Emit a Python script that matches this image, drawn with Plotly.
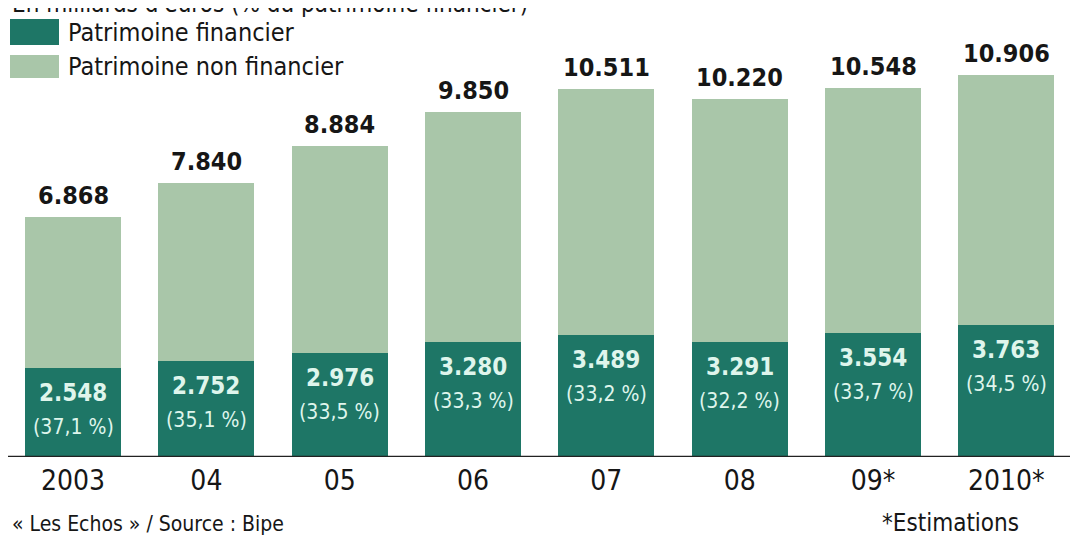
import plotly.graph_objects as go

# Data (milliards d'euros)
categories = ["2003", "04", "05", "06", "07", "08", "09*", "2010*"]
total_values = [6868, 7840, 8884, 9850, 10511, 10220, 10548, 10906]
financier_values = [2548, 2752, 2976, 3280, 3489, 3291, 3554, 3763]
financier_pct = ["(37,1 %)", "(35,1 %)", "(33,5 %)", "(33,3 %)", "(33,2 %)", "(32,2 %)", "(33,7 %)", "(34,5 %)"]
total_labels = ["6.868", "7.840", "8.884", "9.850", "10.511", "10.220", "10.548", "10.906"]
financier_labels = ["2.548", "2.752", "2.976", "3.280", "3.489", "3.291", "3.554", "3.763"]
non_financier_values = [t - f for t, f in zip(total_values, financier_values)]

DARK = "#1e7666"
LIGHT = "#a9c6a9"
INNER_TXT = "#dff5ec"
TXT = "#161616"
FONT = "DejaVu Sans Condensed, Liberation Sans Narrow, Arial Narrow, sans-serif"

OFF = 8  # page body margin offset
W, H = 1078 - OFF, 537 - OFF
ML, MR, MT, MB = 0, 5, 29, 80
plot_h = H - MT - MB
plot_w = W - ML - MR
ymax = plot_h / 0.035

fig = go.Figure()
fig.add_trace(go.Bar(x=categories, y=financier_values, marker=dict(color=DARK, line=dict(width=0)),
                     name="Patrimoine financier", showlegend=False, hoverinfo="x+y"))
fig.add_trace(go.Bar(x=categories, y=non_financier_values, marker=dict(color=LIGHT, line=dict(width=0)),
                     name="Patrimoine non financier", showlegend=False, hoverinfo="x+y"))

ann = []
for i, (t, tl, f, fl, p) in enumerate(zip(total_values, total_labels, financier_values, financier_labels, financier_pct)):
    ann.append(dict(x=i, y=t, text="<b>%s</b>" % tl, showarrow=False, yanchor="bottom", yshift=5,
                    font=dict(family=FONT, size=25, color=TXT)))
    ann.append(dict(x=i, y=f, text="<b>%s</b>" % fl, showarrow=False, yanchor="middle", yshift=-25,
                    font=dict(family=FONT, size=24, color=INNER_TXT)))
    ann.append(dict(x=i, y=f, text=p, showarrow=False, yanchor="middle", yshift=-59,
                    font=dict(family=FONT, size=21, color=INNER_TXT)))

def py(ref_y):
    return (H - MB - (ref_y - OFF)) / plot_h

def px(ref_x):
    return ((ref_x - OFF) - ML) / plot_w

# Cut-off title at top (only its lower part is visible, as in the reference)
ann.append(dict(xref="paper", yref="paper", x=px(10), y=py(4), xanchor="left",
                yanchor="middle", showarrow=False, text="En milliards d'euros (% du patrimoine financier)",
                font=dict(family=FONT, size=24, color=TXT)))
# Legend texts
ann.append(dict(xref="paper", yref="paper", x=px(66), y=py(32), xanchor="left",
                yanchor="middle", showarrow=False, text="Patrimoine financier",
                font=dict(family=FONT, size=25, color=TXT)))
ann.append(dict(xref="paper", yref="paper", x=px(66), y=py(67), xanchor="left",
                yanchor="middle", showarrow=False, text="Patrimoine non financier",
                font=dict(family=FONT, size=25, color=TXT)))
# Footer
ann.append(dict(xref="paper", yref="paper", x=px(10), y=py(524), xanchor="left",
                yanchor="middle", showarrow=False, text="« Les Echos » / Source : Bipe",
                font=dict(family=FONT, size=21, color=TXT)))
ann.append(dict(xref="paper", yref="paper", x=px(950), y=py(523), xanchor="center",
                yanchor="middle", showarrow=False, text="*Estimations",
                font=dict(family=FONT, size=24, color=TXT)))

shapes = [
    dict(type="rect", xref="paper", yref="paper", x0=px(10), x1=px(59),
         y0=py(19), y1=py(45), fillcolor=DARK, line=dict(width=0)),
    dict(type="rect", xref="paper", yref="paper", x0=px(10), x1=px(59),
         y0=py(55), y1=py(78), fillcolor=LIGHT, line=dict(width=0)),
    dict(type="line", xref="paper", yref="y", x0=px(6), x1=px(1078), y0=0, y1=0,
         line=dict(color="#222222", width=2.5)),
]

fig.update_layout(
    width=W, height=H, barmode="stack", bargap=0.28,
    margin=dict(l=ML, r=MR, t=MT, b=MB, pad=0),
    paper_bgcolor="white", plot_bgcolor="white",
    annotations=ann, shapes=shapes,
    xaxis=dict(type="category", range=[-0.488, 7.5], showgrid=False, zeroline=False, showline=False,
               ticks="", tickfont=dict(family=FONT, size=28, color=TXT), ticklabelstandoff=4,
               automargin=False),
    yaxis=dict(range=[0, ymax], visible=False, automargin=False),
    font=dict(family=FONT),
)

fig.write_html("out.html")
